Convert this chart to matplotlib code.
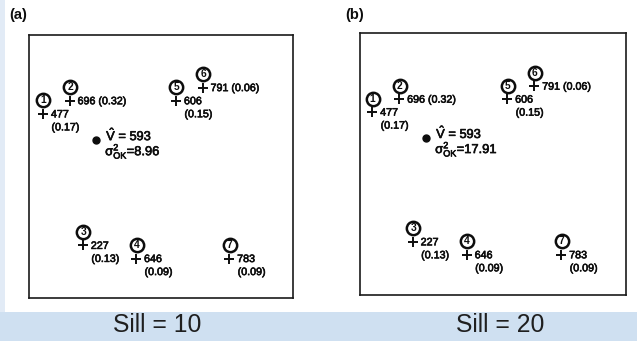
import matplotlib
matplotlib.use('Agg')
import matplotlib.pyplot as plt
import matplotlib.patheffects as pe
from matplotlib.transforms import offset_copy
from matplotlib.patches import Rectangle

plt.rcParams['font.family'] = ['Liberation Sans', 'DejaVu Sans']
plt.rcParams['mathtext.fontset'] = 'custom'
plt.rcParams['mathtext.rm'] = 'Liberation Sans'
plt.rcParams['mathtext.it'] = 'Liberation Sans:italic'
plt.rcParams['mathtext.bf'] = 'Liberation Sans:bold'

# ---- data ----
sample_ids = [1, 2, 3, 4, 5, 6, 7]
sample_x = [61, 63, 64, 68, 71, 73, 75]
sample_y = [139, 140, 129, 128, 140, 141, 128]
sample_values = [477, 696, 227, 646, 606, 791, 783]
weights = [0.17, 0.32, 0.13, 0.09, 0.15, 0.06, 0.09]
one_line = [False, True, False, False, False, True, False]
est_x, est_y = 65, 137
est_value = 593
panel_labels = ['(a)', '(b)']
sills = [10, 20]
kriging_variances = [8.96, 17.91]

W, H = 637, 341
fig = plt.figure(figsize=(W / 100, H / 100), dpi=100)
fig.patch.set_facecolor('white')

# background decorations
fig.add_artist(Rectangle((0, 0), 1, 29 / H, transform=fig.transFigure,
                         facecolor='#cfe0f1', edgecolor='none', zorder=0))
fig.add_artist(Rectangle((0, 29 / H), 5 / W, 1 - 29 / H, transform=fig.transFigure,
                         facecolor='#e2ebf6', edgecolor='none', zorder=0))

panels = [
    dict(rect=(29, 35, 293, 298), xlim=(59.95, 79.8), ylim=(125, 145), lab=(9, 15)),
    dict(rect=(360, 33, 626, 295), xlim=(60.1, 79.8), ylim=(124.9, 145.1), lab=(345, 15)),
]
sill_centers = [157, 500]

ink = '#0d0d0d'
thick = [pe.withStroke(linewidth=0.45, foreground=ink)]
for i, p in enumerate(panels):
    x0, y0, x1, y1 = p['rect']
    ax = fig.add_axes([x0 / W, 1 - y1 / H, (x1 - x0) / W, (y1 - y0) / H])
    ax.set_xlim(*p['xlim'])
    ax.set_ylim(*p['ylim'])
    ax.set_xticks([])
    ax.set_yticks([])
    ax.set_facecolor('white')
    for s in ax.spines.values():
        s.set_linewidth(1.2)
        s.set_color('#1a1a1a')

    ax.plot(sample_x, sample_y, '+', color=ink, ms=6.5, mew=1.4, zorder=3)
    circ_tr = offset_copy(ax.transData, fig=fig, x=0.5, y=13.5, units='dots')
    ax.plot(sample_x, sample_y, 'o', mfc='white', mec=ink, ms=9.6, mew=1.8,
            transform=circ_tr, zorder=4)
    for sid, sx, sy, v, w, ol in zip(sample_ids, sample_x, sample_y,
                                     sample_values, weights, one_line):
        ax.text(sx, sy, str(sid), transform=circ_tr, ha='center', va='center',
                fontsize=7.4, fontweight='bold', color=ink, zorder=5)
        val_tr = offset_copy(ax.transData, fig=fig, x=8, y=-0.5, units='dots')
        if ol:
            ax.text(sx, sy, f'{v} ({w:.2f})', transform=val_tr, ha='left',
                    va='center', fontsize=7.7, color=ink, path_effects=thick)
        else:
            ax.text(sx, sy, f'{v}', transform=val_tr, ha='left',
                    va='center', fontsize=7.7, color=ink, path_effects=thick)
            w_tr = offset_copy(ax.transData, fig=fig, x=8.5, y=-13.5, units='dots')
            ax.text(sx, sy, f'({w:.2f})', transform=w_tr, ha='left',
                    va='center', fontsize=7.7, color=ink, path_effects=thick)

    ax.plot([est_x], [est_y], 'o', color=ink, ms=5, zorder=3)
    e1 = offset_copy(ax.transData, fig=fig, x=10, y=0, units='dots')
    ax.text(est_x, est_y, r'$\hat{\mathrm{V}}$' + f' = {est_value}', transform=e1,
            ha='left', va='baseline', fontsize=9.3, color=ink, path_effects=thick)
    e2 = offset_copy(ax.transData, fig=fig, x=9, y=-15, units='dots')
    ax.text(est_x, est_y, r'$\mathrm{\sigma}^{2}_{\mathrm{OK}}$' + f'={kriging_variances[i]}',
            transform=e2, ha='left', va='baseline', fontsize=9.3, color=ink,
            path_effects=thick)

    lx, ly = p['lab']
    fig.text(lx / W, 1 - ly / H, panel_labels[i], ha='left', va='center',
             fontsize=10.5, fontweight='bold', color=ink)
    fig.text(sill_centers[i] / W, 1 - 325 / H, f'Sill = {sills[i]}', ha='center',
             va='center', fontsize=17.8, color='#1f1f1f')

fig.savefig('out.png', dpi=100, facecolor=fig.get_facecolor())
